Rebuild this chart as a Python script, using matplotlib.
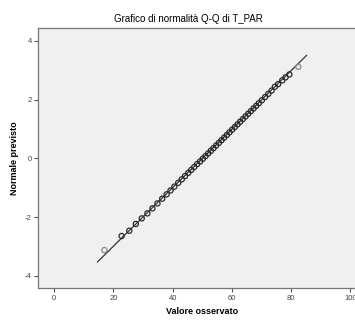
import matplotlib
matplotlib.use("Agg")
import matplotlib.pyplot as plt

plt.rcParams['font.family'] = ['Liberation Sans', 'DejaVu Sans']
plt.rcParams['axes.unicode_minus'] = False

# valori
osservato = [17.0, 22.8, 25.4, 27.6, 29.6, 31.5, 33.2, 34.9, 36.5, 38.0, 39.3,
             40.6, 41.9, 43.1, 44.2, 45.3, 46.3, 47.3, 48.3, 49.3, 50.2, 51.1,
             52.0, 52.9, 53.8, 54.7, 55.6, 56.5, 57.4, 58.3, 59.2, 60.1, 61.0,
             61.9, 62.8, 63.7, 64.6, 65.5, 66.4, 67.3, 68.2, 69.1, 70.1, 71.2,
             72.3, 73.4, 74.5, 75.6, 77.0, 78.1, 79.4, 82.4]
previsto = [-3.12, -2.64, -2.46, -2.23, -2.04, -1.87, -1.70, -1.53, -1.37, -1.22,
            -1.09, -0.96, -0.83, -0.71, -0.60, -0.49, -0.39, -0.29, -0.19, -0.10,
            -0.01, 0.08, 0.17, 0.26, 0.35, 0.44, 0.53, 0.62, 0.71, 0.80, 0.89,
            0.98, 1.07, 1.16, 1.25, 1.34, 1.43, 1.52, 1.61, 1.70, 1.79, 1.88,
            1.98, 2.09, 2.20, 2.31, 2.44, 2.53, 2.66, 2.76, 2.86, 3.12]
retta_x = [14.7, 85.2]
retta_y = [-3.52, 3.51]

fig = plt.figure(figsize=(3.55, 3.2), dpi=100)
ax = fig.add_axes([0.107, 0.1, 0.922, 0.8125])
ax.set_facecolor('#f0f0f0')

ax.plot(retta_x, retta_y, color='#333333', lw=0.9, zorder=2)
colori = ['#8a8a8a' if i in (0, len(osservato) - 1) else '#2a2a2a'
          for i in range(len(osservato))]
ax.scatter(osservato, previsto, s=14, facecolors='none', edgecolors=colori,
           linewidths=0.9, zorder=3)

ax.set_xlim(-5.4, 105)
ax.set_ylim(-4.41, 4.44)
ax.set_xticks([0, 20, 40, 60, 80, 100])
ax.set_yticks([-4, -2, 0, 2, 4])
ax.tick_params(labelsize=5.5, colors='#555555', length=3, width=0.8,
               labelcolor='#444444')
ax.tick_params(axis='x', pad=2)
ax.tick_params(axis='y', pad=1.5)
for s in ax.spines.values():
    s.set_color('#777777')
    s.set_linewidth(0.9)

ax.set_xlabel('Valore osservato', fontsize=6.5, fontweight='bold', labelpad=4)
ax.set_ylabel('Normale previsto', fontsize=6.5, fontweight='bold', labelpad=4)
fig.text(0.53, 0.94, 'Grafico di normalità Q-Q di T_PAR', fontsize=7,
         ha='center', va='center')

fig.savefig('out.png', dpi=100)
